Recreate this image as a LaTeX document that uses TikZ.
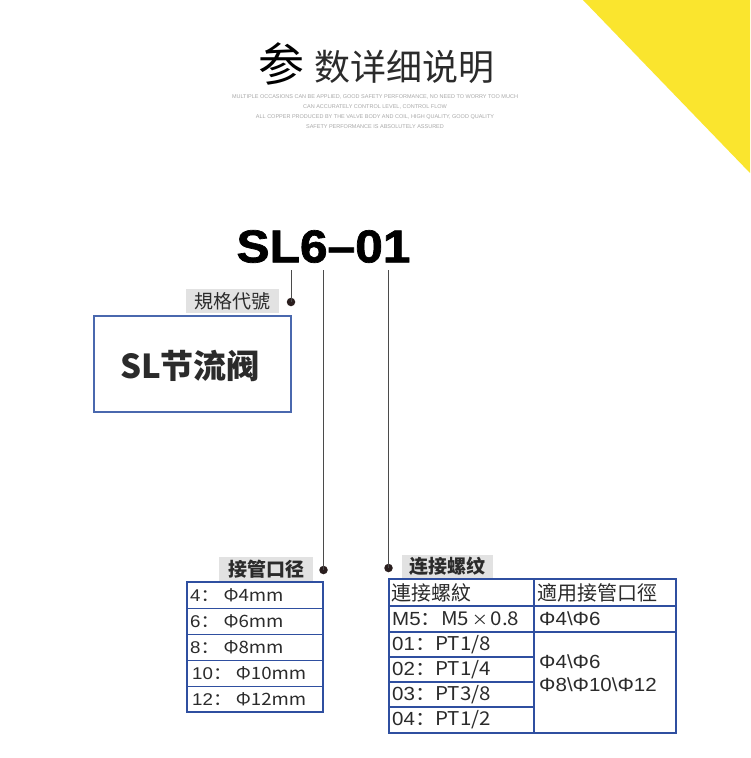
\documentclass[tikz,border=0pt]{standalone}
\usepackage{fontspec}
\setmainfont{Liberation Sans}
\newfontfamily\cjk{Noto Sans CJK SC}
\newfontfamily\heavy{Liberation Sans}[BoldFeatures={FakeBold=1.5}]
\definecolor{yel}{HTML}{FAE52E}
\definecolor{tblblue}{HTML}{2F4FA0}
\definecolor{boxblue}{HTML}{4A68AE}
\definecolor{lbl}{HTML}{E2E2E2}
\definecolor{ink}{HTML}{2B2B2B}
\definecolor{dotc}{HTML}{2A1E1E}
\definecolor{fine}{HTML}{A8A8A8}
\begin{document}
\begin{tikzpicture}[x=1pt,y=-1pt,
  lblbox/.style={fill=lbl, inner sep=0pt, text=ink, font=\cjk\fontsize{19}{20}\selectfont},
  tdot/.style={circle, fill=dotc, inner sep=0pt, minimum size=8.5pt},
  lead/.style={draw=ink!85, line width=1pt},
  tbl/.style={draw=tblblue, line width=1.2pt},
  cellL/.style={anchor=west, inner sep=0pt, text=ink, xscale=1.1, font=\fontsize{17}{18}\selectfont},
  cellR/.style={anchor=west, inner sep=0pt, text=ink, xscale=1.08, font=\fontsize{19}{20}\selectfont},
  finetext/.style={text=fine, inner sep=0pt, font=\fontsize{5.5}{6}\selectfont}]
\fill[white] (0,0) rectangle (750,758);
\path[use as bounding box] (0,0) rectangle (750,758);
\fill[yel] (583,0) -- (750,0) -- (750,173) -- cycle;

% title
\node[inner sep=0pt, text=black, font=\cjk\fontsize{46}{48}\selectfont] (can) at (281,64) {参};
\node[anchor=west, inner sep=0pt, text=ink, font=\cjk\fontsize{36}{38}\selectfont] (title) at (314,67) {数详细说明};
\node[finetext] (f1) at (375,97) {MULTIPLE OCCASIONS CAN BE APPLIED, GOOD SAFETY PERFORMANCE, NO NEED TO WORRY TOO MUCH};
\node[finetext] (f2) at (375,107) {CAN ACCURATELY CONTROL LEVEL, CONTROL FLOW};
\node[finetext] (f3) at (375,117) {ALL COPPER PRODUCED BY THE VALVE BODY AND COIL, HIGH QUALITY, GOOD QUALITY};
\node[finetext] (f4) at (375,127) {SAFETY PERFORMANCE IS ABSOLUTELY ASSURED};

% model code
\node[inner sep=0pt, text=black, xscale=1.08, font=\heavy\bfseries\fontsize{46}{48}\selectfont] (code) at (323.5,246.5) {SL6–01};
\coordinate (t1) at (291,270);
\coordinate (t2) at (323.5,270);
\coordinate (t3) at (388.5,270);
\node[tdot] (d1) at (291,302) {};
\node[tdot] (d2) at (323.5,570) {};
\node[tdot] (d3) at (388.5,568) {};
\draw[lead] (t1) -- (d1.center);
\draw[lead] (t2) -- (d2.center);
\draw[lead] (t3) -- (d3.center);

% spec label and box
\node[lblbox, minimum width=93pt, minimum height=24pt] (l1) at (232.5,301) {規格代號};
\draw[draw=boxblue, line width=1.2pt] (94,316) rectangle (291,412);
\node[inner sep=0pt, text=ink, font=\cjk\bfseries\fontsize{33}{35}\selectfont] (name) at (190,366) {SL节流阀};

% left table
\node[lblbox, minimum width=94pt, minimum height=25pt, font=\cjk\bfseries\fontsize{19}{20}\selectfont] (l2) at (266,569.5) {接管口径};
\draw[tbl] (187,582) rectangle (323,712);
\foreach \yy in {608,634,660,686} \draw[tbl, line width=0.9pt] (187,\yy) -- (323,\yy);
\node[cellL] (a1) at (190,595) {4\cjk{：} Φ4mm};
\node[cellL] (a2) at (190,621) {6\cjk{：} Φ6mm};
\node[cellL] (a3) at (190,647) {8\cjk{：} Φ8mm};
\node[cellL] (a4) at (192,673) {10\cjk{：} Φ10mm};
\node[cellL] (a5) at (192,699) {12\cjk{：} Φ12mm};

% right table
\node[lblbox, minimum width=91pt, minimum height=23pt, font=\cjk\bfseries\fontsize{19}{20}\selectfont] (l3) at (447.5,566.5) {连接螺纹};
\draw[tbl] (389,579) rectangle (676,733);
\draw[tbl] (534,579) -- (534,733);
\foreach \yy in {606,632} \draw[tbl] (389,\yy) -- (676,\yy);
\foreach \yy in {657,682,707} \draw[tbl] (389,\yy) -- (534,\yy);
\node[cellR, xscale=0.926, font=\cjk\fontsize{20}{21}\selectfont] (h1) at (391,592.5) {連接螺紋};
\node[cellR, xscale=0.926, font=\cjk\fontsize{20}{21}\selectfont] (h2) at (537,592.5) {適用接管口徑};
\node[cellR] (b1) at (392,619) {M5\cjk{：}M5{\fontsize{15}{16}\selectfont\,×\,}0.8};
\node[cellR] (c1) at (539,619) {Φ4\textbackslash Φ6};
\node[cellR] (b2) at (392,644.5) {01\cjk{：}PT1/8};
\node[cellR] (b3) at (392,669.5) {02\cjk{：}PT1/4};
\node[cellR] (b4) at (392,694.5) {03\cjk{：}PT3/8};
\node[cellR] (b5) at (392,720) {04\cjk{：}PT1/2};
\node[cellR] (c2) at (539,662) {Φ4\textbackslash Φ6};
\node[cellR] (c3) at (539,685) {Φ8\textbackslash Φ10\textbackslash Φ12};
\end{tikzpicture}
\end{document}
